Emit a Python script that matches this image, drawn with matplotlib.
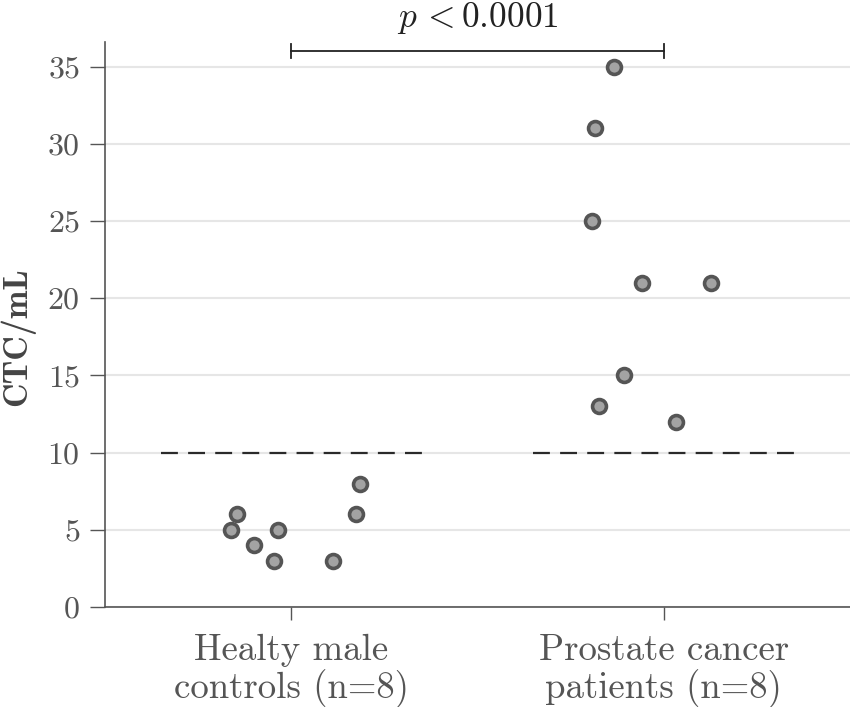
import matplotlib
matplotlib.use("Agg")
import matplotlib.pyplot as plt
import numpy as np

categories = ["Healty male\ncontrols (n=8)", "Prostate cancer\npatients (n=8)"]
healthy_values = [5, 6, 4, 3, 5, 3, 6, 8]
cancer_values = [35, 31, 25, 21, 21, 15, 13, 12]
threshold = 10
p_text = r"$p\,{<}$0.0001"
y_ticks = [0, 5, 10, 15, 20, 25, 30, 35]

# horizontal jitter (layout)
healthy_jitter = [-0.161, -0.145, -0.100, -0.046, -0.035, 0.113, 0.174, 0.185]
cancer_jitter = [-0.134, -0.185, -0.193, -0.059, 0.126, -0.107, -0.174, 0.032]

plt.rcParams['font.family'] = ['cmr10', 'DejaVu Sans']
plt.rcParams['mathtext.fontset'] = 'cm'
plt.rcParams['axes.formatter.use_mathtext'] = True

txt = '#555555'
fig = plt.figure(figsize=(8.5, 7.07), dpi=100)
ax = fig.add_axes([105/850, 100/707, 745/850, 565/707])

ax.set_xlim(-0.5, 1.5)
ax.set_ylim(0, 36.6)
ax.set_yticks(y_ticks)
ax.yaxis.grid(True, color='#e6e6e6', linewidth=1.5)
ax.set_axisbelow(True)

for i, (vals, jit) in enumerate([(healthy_values, healthy_jitter), (cancer_values, cancer_jitter)]):
    x = i + np.array(jit)
    ax.plot(x, vals, 'o', ms=10, mfc='#a3a3a3', mec='#555555', mew=2.6, zorder=3, clip_on=False)
    ax.hlines(threshold, i - 0.35, i + 0.35, colors='#2a2a2a', linestyles=(0, (7.6, 4.6)), linewidth=1.6)

ax.set_xticks([0, 1])
ax.set_xticklabels(categories, fontfamily='cmr10', fontsize=26.5, color=txt, linespacing=1.08)
ax.tick_params(axis='x', length=9, width=1, color=txt, pad=10)
ax.tick_params(axis='y', length=11, width=1, color=txt, labelsize=23, labelcolor=txt, pad=7)
for lbl in ax.get_yticklabels():
    lbl.set_fontfamily('cmr10')

ax.set_ylabel("CTC/mL", fontfamily='cmb10', fontsize=24.5, color='#444444')
ax.yaxis.set_label_coords(-0.094, 0.478)

for s in ['top', 'right']:
    ax.spines[s].set_visible(False)
for s in ['left', 'bottom']:
    ax.spines[s].set_color(txt)
    ax.spines[s].set_linewidth(1.2)

# significance bracket
yb = 36
ax.plot([0, 1], [yb, yb], color='#222222', lw=1.3, clip_on=False)
ax.plot([0, 0], [yb - 0.45, yb + 0.45], color='#222222', lw=1.3, clip_on=False)
ax.plot([1, 1], [yb - 0.45, yb + 0.45], color='#222222', lw=1.3, clip_on=False)
ax.text(0.5, yb + 1.55, p_text, ha='center', va='baseline', fontsize=25.5, color='#222222')

fig.savefig("out.png", dpi=100)
